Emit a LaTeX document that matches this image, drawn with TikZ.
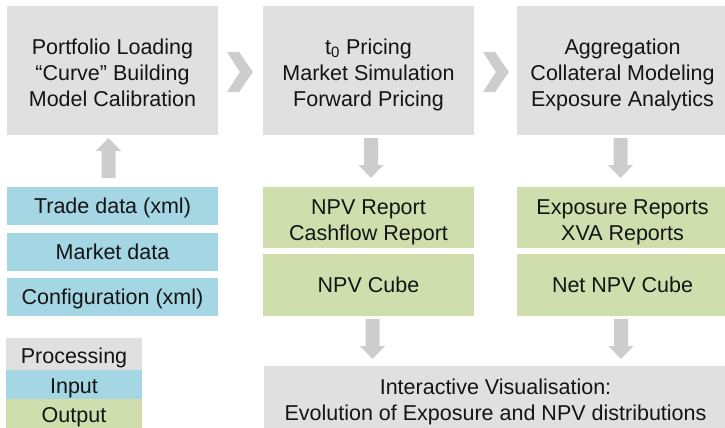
\documentclass[tikz,border=0pt]{standalone}
\usepackage{fontspec}
\setmainfont{Liberation Sans}
\usetikzlibrary{calc}
\definecolor{procgray}{RGB}{224,224,224}
\definecolor{inblue}{RGB}{165,214,227}
\definecolor{outgreen}{RGB}{207,222,172}
\definecolor{arrgray}{RGB}{205,205,205}
\definecolor{txt}{RGB}{20,20,20}
\tikzset{
  bigdown/.pic={\fill[arrgray] (-7,0) -- (7,0) -- (7,27) -- (12.5,27) -- (0,40) -- (-12.5,27) -- (-7,27) -- cycle;},
  chev/.pic={\fill[arrgray] (9,-18.5) -- (21,-18.5) -- (35,1.5) -- (21,21.5) -- (9,21.5) -- (22,1.5) -- cycle;}
}
\begin{document}
\begin{tikzpicture}[x=1pt,y=-1pt,
  box/.style={rectangle, inner sep=0pt, outer sep=0pt, align=center, text=txt,
              font=\fontsize{21.5}{26}\selectfont},
  oneline/.style={text height=15.4pt, text depth=0pt},
  twolines/.style={text height=45.4pt, text depth=0pt},
  threelines/.style={text height=71.4pt, text depth=0pt},
  proc/.style={box, threelines, fill=procgray, minimum width=211pt, minimum height=129pt},
  inp/.style={box, oneline, fill=inblue, minimum width=211pt, minimum height=38pt},
  outp/.style={box, fill=outgreen, minimum width=211pt},
  legbox/.style={box, text height=18.4pt, text depth=0pt, minimum width=136pt}]
\useasboundingbox (0,0) rectangle (725,428);

% processing boxes
\node[proc] (p1) at (112.5,70.5) {Portfolio Loading\\“Curve” Building\\Model Calibration};
\node[proc] (p2) at (368.5,70.5) {t\textsubscript{0} Pricing\\Market Simulation\\Forward Pricing};
\node[proc] (p3) at (622.5,70.5) {Aggregation\\Collateral Modeling\\Exposure Analytics};

% inputs
\node[inp] (in1) at (112.5,206) {Trade data (xml)};
\node[inp] (in2) at (112.5,252) {Market data};
\node[inp] (in3) at (112.5,297) {Configuration (xml)};

% outputs
\node[outp, twolines, minimum height=61pt] (o1) at (368.5,217.5) {NPV Report\\Cashflow Report};
\node[outp, oneline, minimum height=62pt] (o2) at (368.5,285) {NPV Cube};
\node[outp, twolines, minimum height=61pt] (o3) at (622.5,217.5) {Exposure Reports\\XVA Reports};
\node[outp, oneline, minimum height=62pt] (o4) at (622.5,285) {Net NPV Cube};

% visualisation
\node[box, twolines, fill=procgray, minimum width=463pt, minimum height=63pt] (vis) at (495.5,397.5)
  {Interactive Visualisation:\\Evolution of Exposure and NPV distributions};

% legend
\node[legbox, fill=procgray, minimum height=32pt] (lg1) at (74,354) {Processing};
\node[legbox, fill=inblue, minimum height=29pt] (lg2) at (74,384.5) {Input};
\node[legbox, fill=outgreen, minimum height=29pt] (lg3) at (74,413.5) {Output};

% chevrons
\pic at (p1.east) {chev};
\pic at (p2.east) {chev};

% block arrows
\pic[rotate=180] at ($(in1.north)+(-4,-9)$) {bigdown};
\pic at ($(p2.south)+(2.5,3)$) {bigdown};
\pic at ($(p3.south)+(-2,3)$) {bigdown};
\pic at ($(o2.south)+(4,3)$) {bigdown};
\pic at ($(o4.south)+(-1.5,3)$) {bigdown};
\end{tikzpicture}
\end{document}
